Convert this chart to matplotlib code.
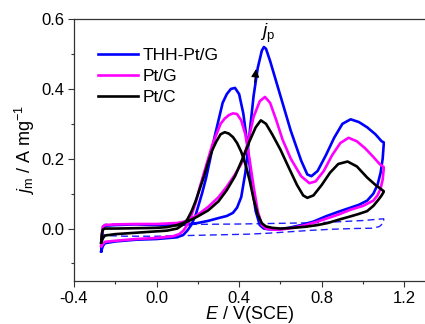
import matplotlib
matplotlib.use("Agg")
import matplotlib.pyplot as plt
from matplotlib.ticker import MultipleLocator

plt.rcParams['font.family'] = ['Liberation Sans', 'DejaVu Sans']
plt.rcParams['mathtext.fontset'] = 'custom'
plt.rcParams['mathtext.rm'] = 'Liberation Sans'
plt.rcParams['mathtext.it'] = 'Liberation Sans:italic'

# THH-Pt/G : forward then reverse sweep
thh_fwd_E = [-0.268, -0.265, -0.26, -0.25, -0.2, -0.1, 0.0, 0.1, 0.15, 0.2, 0.25, 0.3, 0.34, 0.37,
             0.39, 0.41, 0.43, 0.45, 0.47, 0.49, 0.51, 0.52, 0.53, 0.55, 0.58, 0.61, 0.65, 0.70,
             0.73, 0.75, 0.78, 0.82, 0.86, 0.90, 0.94, 0.98, 1.02, 1.06, 1.09, 1.10]
thh_fwd_j = [-0.065, -0.03, 0.0, 0.008, 0.01, 0.012, 0.01, 0.01, 0.012, 0.016, 0.022, 0.03, 0.036, 0.045,
             0.06, 0.09, 0.16, 0.27, 0.38, 0.46, 0.51, 0.52, 0.515, 0.48, 0.42, 0.36, 0.28, 0.195,
             0.155, 0.15, 0.165, 0.21, 0.26, 0.30, 0.313, 0.305, 0.29, 0.27, 0.25, 0.247]
thh_rev_E = [1.10, 1.095, 1.085, 1.07, 1.05, 1.02, 0.98, 0.93, 0.88, 0.82, 0.76, 0.70, 0.64, 0.58,
             0.54, 0.52, 0.50, 0.48, 0.46, 0.44, 0.42, 0.40, 0.38, 0.36, 0.34, 0.32, 0.30, 0.28,
             0.26, 0.24, 0.22, 0.21, 0.19, 0.17, 0.15, 0.13, 0.1, 0.0, -0.1, -0.2, -0.25, -0.26, -0.268]
thh_rev_j = [0.24, 0.2, 0.16, 0.125, 0.1, 0.08, 0.068, 0.058, 0.048, 0.035, 0.02, 0.01, 0.002, -0.003,
             -0.002, 0.0, 0.01, 0.05, 0.13, 0.24, 0.33, 0.385, 0.403, 0.40, 0.385, 0.36, 0.31, 0.26,
             0.2, 0.145, 0.1, 0.08, 0.04, 0.012, -0.005, -0.018, -0.025, -0.03, -0.032, -0.037, -0.042, -0.05, -0.065]

# Pt/G
ptg_fwd_E = [-0.268, -0.265, -0.26, -0.25, -0.2, -0.1, 0.0, 0.1, 0.15, 0.2, 0.25, 0.3, 0.34, 0.38,
             0.41, 0.44, 0.47, 0.50, 0.525, 0.55, 0.58, 0.61, 0.65, 0.70, 0.74, 0.77, 0.81, 0.85,
             0.89, 0.93, 0.97, 1.01, 1.05, 1.08, 1.10]
ptg_fwd_j = [-0.05, -0.02, 0.005, 0.01, 0.012, 0.013, 0.013, 0.016, 0.022, 0.04, 0.062, 0.09, 0.12, 0.155,
             0.185, 0.24, 0.32, 0.365, 0.377, 0.36, 0.31, 0.255, 0.2, 0.15, 0.13, 0.135, 0.165, 0.21,
             0.245, 0.26, 0.25, 0.23, 0.205, 0.185, 0.176]
ptg_rev_E = [1.10, 1.095, 1.085, 1.07, 1.05, 1.0, 0.94, 0.88, 0.82, 0.78, 0.72, 0.66, 0.60, 0.56,
             0.53, 0.51, 0.49, 0.47, 0.45, 0.43, 0.41, 0.39, 0.37, 0.35, 0.33, 0.31, 0.29, 0.27,
             0.25, 0.23, 0.21, 0.19, 0.17, 0.15, 0.13, 0.11, 0.08, 0.0, -0.1, -0.2, -0.25, -0.26, -0.268]
ptg_rev_j = [0.17, 0.14, 0.115, 0.095, 0.08, 0.065, 0.054, 0.04, 0.028, 0.02, 0.01, 0.002, -0.003, -0.003,
             0.0, 0.01, 0.05, 0.12, 0.2, 0.27, 0.31, 0.328, 0.33, 0.325, 0.315, 0.3, 0.27, 0.24,
             0.2, 0.16, 0.12, 0.075, 0.04, 0.012, -0.006, -0.016, -0.022, -0.027, -0.03, -0.035, -0.038, -0.045, -0.05]

# Pt/C
ptc_fwd_E = [-0.268, -0.265, -0.26, -0.25, -0.2, -0.1, 0.0, 0.05, 0.1, 0.15, 0.2, 0.25, 0.3, 0.34,
             0.38, 0.42, 0.45, 0.48, 0.505, 0.53, 0.56, 0.60, 0.64, 0.68, 0.71, 0.73, 0.76, 0.80,
             0.84, 0.88, 0.925, 0.97, 1.02, 1.06, 1.085, 1.10]
ptc_fwd_j = [-0.04, -0.015, -0.003, 0.0, 0.0, 0.001, 0.002, 0.004, 0.01, 0.02, 0.035, 0.052, 0.078, 0.11,
             0.15, 0.205, 0.25, 0.29, 0.31, 0.3, 0.27, 0.226, 0.175, 0.125, 0.095, 0.088, 0.095, 0.125,
             0.16, 0.185, 0.192, 0.178, 0.146, 0.125, 0.114, 0.107]
ptc_rev_E = [1.10, 1.09, 1.075, 1.05, 1.02, 0.98, 0.94, 0.88, 0.83, 0.78, 0.72, 0.66, 0.60, 0.56,
             0.53, 0.51, 0.49, 0.47, 0.45, 0.43, 0.41, 0.39, 0.37, 0.35, 0.33, 0.31, 0.29, 0.27,
             0.25, 0.23, 0.21, 0.19, 0.17, 0.15, 0.13, 0.10, 0.05, 0.0, -0.1, -0.2, -0.25, -0.26, -0.268]
ptc_rev_j = [0.105, 0.095, 0.083, 0.065, 0.05, 0.042, 0.035, 0.025, 0.016, 0.01, 0.005, 0.002, 0.0, 0.002,
             0.006, 0.015, 0.04, 0.085, 0.14, 0.185, 0.22, 0.245, 0.262, 0.272, 0.276, 0.27, 0.25, 0.225,
             0.19, 0.15, 0.115, 0.08, 0.05, 0.027, 0.012, 0.0, -0.006, -0.008, -0.012, -0.016, -0.02, -0.028, -0.04]

# background CV (dashed)
bg_E = [-0.265, -0.25, -0.1, 0.0, 0.2, 0.4, 0.6, 0.8, 0.9, 1.0, 1.1,
        1.1, 1.08, 1.05, 0.95, 0.85, 0.75, 0.65, 0.55, 0.45, 0.3, 0.15, 0.0, -0.15, -0.25, -0.265, -0.265]
bg_j = [0.005, 0.012, 0.013, 0.012, 0.012, 0.013, 0.015, 0.017, 0.02, 0.023, 0.028,
        0.017, 0.006, 0.001, 0.0, -0.002, -0.005, -0.009, -0.013, -0.016, -0.018, -0.02, -0.022, -0.022, -0.02, -0.013, 0.005]

fig = plt.figure(figsize=(4.25, 3.24), dpi=100)
ax = fig.add_axes([0.174, 0.133, 0.826, 0.808])

lw = 1.9
ax.plot(bg_E, bg_j, color='#1f1fff', lw=1.0, ls=(0, (5, 3)))
ax.plot(thh_fwd_E + thh_rev_E, thh_fwd_j + thh_rev_j, color='#0000ff', lw=lw, label='THH-Pt/G',
        solid_joinstyle='round')
ax.plot(ptg_fwd_E + ptg_rev_E, ptg_fwd_j + ptg_rev_j, color='#ff00ff', lw=lw, label='Pt/G',
        solid_joinstyle='round')
ax.plot(ptc_fwd_E + ptc_rev_E, ptc_fwd_j + ptc_rev_j, color='black', lw=lw, label='Pt/C',
        solid_joinstyle='round')

ax.annotate('', xy=(0.483, 0.465), xytext=(0.474, 0.41),
            arrowprops=dict(arrowstyle='-|>', color='black', lw=0.8, mutation_scale=12))
ax.text(0.503, 0.548, '$j_\\mathrm{p}$', fontsize=13.5)

ax.set_xlim(-0.4, 1.3)
ax.set_ylim(-0.15, 0.6)
ax.xaxis.set_minor_locator(MultipleLocator(0.2))
ax.yaxis.set_minor_locator(MultipleLocator(0.1))
ax.set_xticks([-0.4, 0.0, 0.4, 0.8, 1.2])
ax.set_xticklabels(['-0.4', '0.0', '0.4', '0.8', '1.2'])
ax.set_yticks([0.0, 0.2, 0.4, 0.6])
ax.set_yticklabels(['0.0', '0.2', '0.4', '0.6'])
ax.tick_params(which='major', direction='out', length=4, width=0.8, labelsize=12, color='#333333',
               pad=3)
ax.tick_params(which='minor', direction='out', length=2.5, width=0.8, color='#333333')
ax.spines['right'].set_visible(False)
for s in ['left', 'bottom', 'top']:
    ax.spines[s].set_color('#333333')
    ax.spines[s].set_linewidth(0.9)

ax.set_xlabel('$E$ / V(SCE)', fontsize=13, labelpad=-1)
ax.set_ylabel('$j_\\mathrm{m}$ / A mg$^{-1}$', fontsize=13, labelpad=3)

ax.legend(loc='upper left', bbox_to_anchor=(0.068, 0.89), frameon=False, fontsize=12.5,
          handlelength=2.3, handletextpad=0.3, labelspacing=0.33, borderaxespad=0, borderpad=0)

fig.savefig('out.png', dpi=100)
